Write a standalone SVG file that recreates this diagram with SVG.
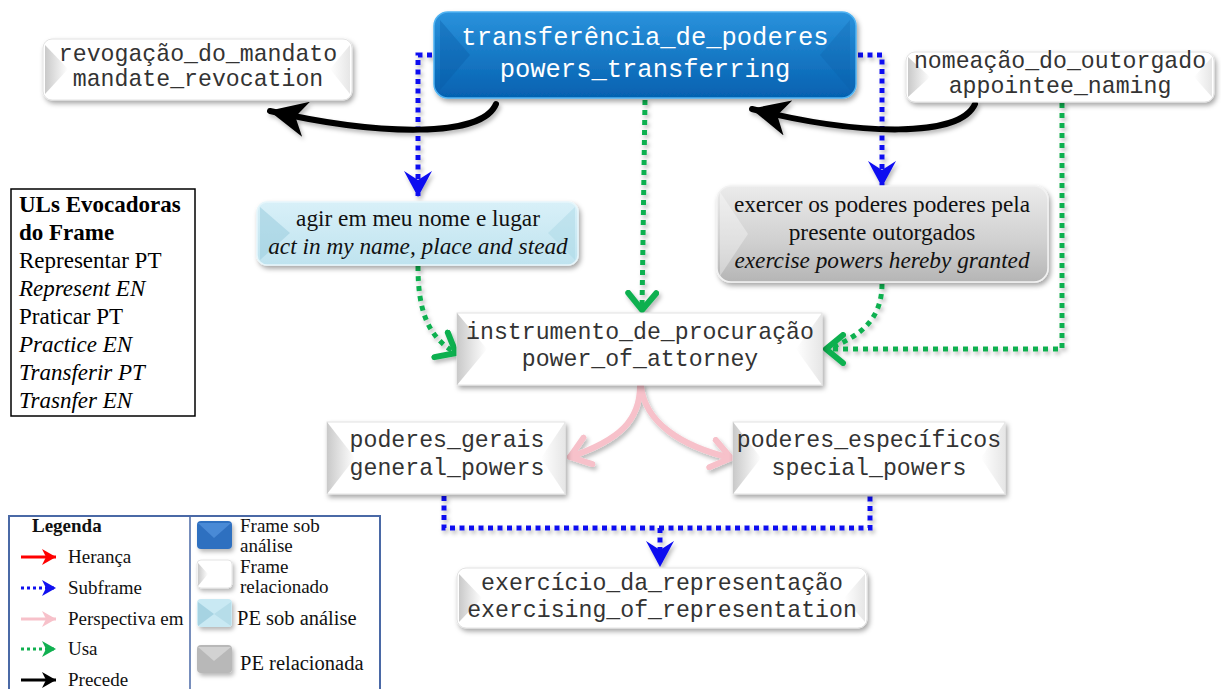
<svg xmlns="http://www.w3.org/2000/svg" width="1221" height="689" viewBox="0 0 1221 689">
  <style>
    .mono { font-family: "Liberation Mono", "Courier New", monospace; font-size: 23.2px; fill: #333; text-anchor: middle; }
    .monoW { font-family: "Liberation Mono", "Courier New", monospace; font-size: 25.5px; fill: #ffffff; text-anchor: middle; }
    .serif { font-family: "Liberation Serif", "Times New Roman", serif; font-size: 23.3px; fill: #111; text-anchor: middle; }
    .it { font-style: italic; }
    .uls { font-family: "Liberation Serif", "Times New Roman", serif; font-size: 23px; fill: #000; }
    .leg { font-family: "Liberation Serif", "Times New Roman", serif; fill: #111; }
    .frameBox { fill: #ffffff; stroke: #e2e2e2; stroke-width: 1; }
    .shadow { filter: url(#drop); }
    .blueDot { fill: none; stroke: #1010f0; stroke-width: 5; stroke-dasharray: 5 4.5; }
    .greenDot { fill: none; stroke: #10b050; stroke-width: 5; stroke-dasharray: 5 5; }
    .black { fill: none; stroke: #000; stroke-width: 6; stroke-linecap: round; }
    .pink { fill: none; stroke: #f7c1ca; stroke-width: 6; stroke-linecap: round; }
  </style>
  <defs>
    <filter id="drop" x="-10%" y="-20%" width="125%" height="150%">
      <feDropShadow dx="2" dy="3" stdDeviation="2.5" flood-color="#000" flood-opacity="0.35"/>
    </filter>
    <filter id="dropS" x="-20%" y="-20%" width="140%" height="140%">
      <feDropShadow dx="2" dy="3" stdDeviation="2" flood-color="#000" flood-opacity="0.28"/>
    </filter>
    <linearGradient id="bevL" x1="0" y1="0" x2="1" y2="0">
      <stop offset="0" stop-color="#c9c9c9"/>
      <stop offset="1" stop-color="#ffffff"/>
    </linearGradient>
    <linearGradient id="bevR" x1="1" y1="0" x2="0" y2="0">
      <stop offset="0" stop-color="#e6e6e6"/>
      <stop offset="1" stop-color="#ffffff"/>
    </linearGradient>
    <linearGradient id="blueFill" x1="0" y1="0" x2="0" y2="1">
      <stop offset="0" stop-color="#2a92dc"/>
      <stop offset="1" stop-color="#0561b0"/>
    </linearGradient>
    <linearGradient id="cyanFill" x1="0" y1="0" x2="0" y2="1">
      <stop offset="0" stop-color="#d8f0f8"/>
      <stop offset="1" stop-color="#bfe3ef"/>
    </linearGradient>
    <linearGradient id="grayFill" x1="0" y1="0" x2="0" y2="1">
      <stop offset="0" stop-color="#ebebeb"/>
      <stop offset="0.6" stop-color="#cfcfcf"/>
      <stop offset="1" stop-color="#b5b5b5"/>
    </linearGradient>
    <marker id="aBlue" viewBox="0 0 26 28" markerWidth="26" markerHeight="28" refX="25" refY="14" orient="auto" markerUnits="userSpaceOnUse">
      <path d="M0,0 L26,14 L0,28 L9,14 z" fill="#1010f0"/>
    </marker>
    <marker id="aGreen" viewBox="0 0 24 34" markerWidth="24" markerHeight="34" refX="20" refY="17" orient="auto" markerUnits="userSpaceOnUse">
      <path d="M3,3 L20,17 L3,31" fill="none" stroke="#10b050" stroke-width="6" stroke-linecap="round" stroke-linejoin="round"/>
    </marker>
    <marker id="aBlack" viewBox="0 0 38 36" markerWidth="38" markerHeight="36" refX="37" refY="18" orient="auto" markerUnits="userSpaceOnUse">
      <path d="M0,0 L38,18 L0,36 L11,18 z" fill="#000"/>
    </marker>
    <marker id="aPink" viewBox="0 0 26 34" markerWidth="26" markerHeight="34" refX="22" refY="17" orient="auto" markerUnits="userSpaceOnUse">
      <path d="M3,3 L22,17 L3,31" fill="none" stroke="#f7c1ca" stroke-width="6" stroke-linecap="round" stroke-linejoin="round"/>
    </marker>
    <!-- small legend arrowheads -->
    <marker id="lRed" viewBox="0 0 14 16" markerWidth="14" markerHeight="16" refX="14" refY="8" orient="auto" markerUnits="userSpaceOnUse">
      <path d="M0,0 L14,8 L0,16 L4,8 z" fill="#ff0000"/>
    </marker>
    <marker id="lBlue" viewBox="0 0 14 16" markerWidth="14" markerHeight="16" refX="14" refY="8" orient="auto" markerUnits="userSpaceOnUse">
      <path d="M0,0 L14,8 L0,16 L4,8 z" fill="#1010f0"/>
    </marker>
    <marker id="lPink" viewBox="0 0 14 16" markerWidth="14" markerHeight="16" refX="14" refY="8" orient="auto" markerUnits="userSpaceOnUse">
      <path d="M0,0 L14,8 L0,16 L4,8 z" fill="#f7c1ca"/>
    </marker>
    <marker id="lGreen" viewBox="0 0 14 16" markerWidth="14" markerHeight="16" refX="14" refY="8" orient="auto" markerUnits="userSpaceOnUse">
      <path d="M0,0 L14,8 L0,16 L4,8 z" fill="#10b050"/>
    </marker>
    <marker id="lBlack" viewBox="0 0 14 16" markerWidth="14" markerHeight="16" refX="14" refY="8" orient="auto" markerUnits="userSpaceOnUse">
      <path d="M0,0 L14,8 L0,16 L4,8 z" fill="#000"/>
    </marker>
  </defs>

  <rect x="0" y="0" width="1221" height="689" fill="#ffffff"/>

  <!-- connectors -->
  <g id="connectors" filter="url(#dropS)">
    <!-- subframe links -->
    <path class="blueDot" d="M432,55 L418,55 L418,196" marker-end="url(#aBlue)"/>
    <path class="blueDot" d="M858,55 L882,55 L882,186" marker-end="url(#aBlue)"/>
    <path class="blueDot" d="M444,496 L444,528 L870,528 L870,496"/>
    <path class="blueDot" d="M660,528 L660,566" marker-end="url(#aBlue)"/>

    <!-- uses links -->
    <path class="greenDot" d="M645,100 L642,310" marker-end="url(#aGreen)"/>
    <path class="greenDot" d="M418,266 C418,305 425,336 456,353" marker-end="url(#aGreen)"/>
    <path class="greenDot" d="M882,284 C882,315 865,336 826,349"/>
    <path class="greenDot" d="M1062,103 L1062,349 L826,349" marker-end="url(#aGreen)"/>

    <!-- precedes links -->
    <path class="black" d="M496,104 C482,138 380,136 270,111" marker-end="url(#aBlack)"/>
    <path class="black" d="M975,104 C960,138 860,136 752,109" marker-end="url(#aBlack)"/>

    <!-- perspective links -->
    <path class="pink" d="M640,386 C640,420 620,440 570,457" marker-end="url(#aPink)"/>
    <path class="pink" d="M641,386 C645,422 680,446 731,458" marker-end="url(#aPink)"/>
  </g>

  <!-- frame under analysis -->
  <g id="transferencia_de_poderes">
    <rect class="shadow" x="434" y="12" width="422" height="86" rx="14" fill="url(#blueFill)" stroke="#4fb3f2" stroke-width="1.5"/>
    <path d="M440,20 L470,55 L440,90 Z" fill="#0a5aa3" opacity="0.35"/>
    <path d="M850,20 L820,55 L850,90 Z" fill="#0a5aa3" opacity="0.25"/>
    <text class="monoW" x="645" y="45">transferência_de_poderes</text>
    <text class="monoW" x="645" y="77">powers_transferring</text>
  </g>

  <g id="revogacao_do_mandato">
    <rect class="frameBox shadow" x="43" y="39" width="309" height="61" rx="9"/>
    <path d="M45,45 L68,69 L45,94 Z" fill="url(#bevL)"/>
    <path d="M350,45 L330,69 L350,94 Z" fill="url(#bevR)"/>
    <text class="mono" x="198" y="61">revogação_do_mandato</text>
    <text class="mono" x="198" y="86">mandate_revocation</text>
  </g>

  <g id="nomeacao_do_outorgado">
    <rect class="frameBox shadow" x="906" y="52" width="308" height="50" rx="9"/>
    <path d="M908,57 L930,77 L908,97 Z" fill="url(#bevL)"/>
    <path d="M1212,57 L1194,77 L1212,97 Z" fill="url(#bevR)"/>
    <text class="mono" x="1060" y="68">nomeação_do_outorgado</text>
    <text class="mono" x="1060" y="93">appointee_naming</text>
  </g>

  <!-- frame elements -->
  <g id="agir_em_meu_nome">
    <rect class="shadow" x="257" y="202" width="321" height="63" rx="10" fill="url(#cyanFill)" stroke="#e6f6fb" stroke-width="1.5"/>
    <path d="M260,207 L290,233 L260,260 Z" fill="#9fcfdf" opacity="0.6"/>
    <path d="M575,207 L548,233 L575,260 Z" fill="#a8d6e4" opacity="0.45"/>
    <text class="serif" x="418" y="226">agir em meu nome e lugar</text>
    <text class="serif it" x="418" y="254">act in my name, place and stead</text>
  </g>

  <g id="exercer_os_poderes">
    <rect class="shadow" x="717" y="186" width="331" height="96" rx="14" fill="url(#grayFill)" stroke="#f2f2f2" stroke-width="1.5"/>
    <path d="M720,192 L748,234 L720,276 Z" fill="#ffffff" opacity="0.35"/>
    <text class="serif" x="882" y="212">exercer os poderes poderes pela</text>
    <text class="serif" x="882" y="240">presente outorgados</text>
    <text class="serif it" x="882" y="268">exercise powers hereby granted</text>
  </g>

  <g id="instrumento_de_procuracao">
    <rect class="frameBox shadow" x="457" y="313" width="365" height="72"/>
    <path d="M457,313 L487,349 L457,385 Z" fill="url(#bevL)"/>
    <path d="M822,313 L796,349 L822,385 Z" fill="url(#bevR)"/>
    <text class="mono" x="640" y="339">instrumento_de_procuração</text>
    <text class="mono" x="640" y="366">power_of_attorney</text>
  </g>

  <g id="poderes_gerais">
    <rect class="frameBox shadow" x="327" y="422" width="238" height="72"/>
    <path d="M327,422 L355,458 L327,494 Z" fill="url(#bevL)"/>
    <path d="M565,422 L541,458 L565,494 Z" fill="url(#bevR)"/>
    <text class="mono" x="447" y="447">poderes_gerais</text>
    <text class="mono" x="447" y="475">general_powers</text>
  </g>

  <g id="poderes_especificos">
    <rect class="frameBox shadow" x="733" y="422" width="272" height="72"/>
    <path d="M733,422 L761,458 L733,494 Z" fill="url(#bevL)"/>
    <path d="M1005,422 L981,458 L1005,494 Z" fill="url(#bevR)"/>
    <text class="mono" x="869" y="447">poderes_específicos</text>
    <text class="mono" x="869" y="475">special_powers</text>
  </g>

  <g id="exercicio_da_representacao">
    <rect class="frameBox shadow" x="457" y="568" width="410" height="60" rx="9"/>
    <path d="M459,574 L482,598 L459,622 Z" fill="url(#bevL)"/>
    <path d="M865,574 L844,598 L865,622 Z" fill="url(#bevR)"/>
    <text class="mono" x="662" y="590">exercício_da_representação</text>
    <text class="mono" x="662" y="617">exercising_of_representation</text>
  </g>

  <!-- evoking lexical units -->
  <g id="uls_evocadoras">
    <rect x="11" y="189" width="184" height="227" fill="#ffffff" stroke="#000" stroke-width="1.5"/>
    <text class="uls" x="19" y="212" font-weight="bold">ULs Evocadoras</text>
    <text class="uls" x="19" y="240" font-weight="bold">do Frame</text>
    <text class="uls" x="19" y="268">Representar PT</text>
    <text class="uls it" x="19" y="296">Represent EN</text>
    <text class="uls" x="19" y="324">Praticar PT</text>
    <text class="uls it" x="19" y="352">Practice EN</text>
    <text class="uls it" x="19" y="380">Transferir PT</text>
    <text class="uls it" x="19" y="408">Trasnfer EN</text>
  </g>

  <!-- legend -->
  <g id="legenda">
    <rect x="9" y="516" width="371" height="180" fill="#ffffff" stroke="#4a69a6" stroke-width="2"/>
    <line x1="190" y1="516" x2="190" y2="689" stroke="#4a69a6" stroke-width="1.5"/>
    <text class="leg" x="32" y="532" font-weight="bold" font-size="19">Legenda</text>

    <line x1="21" y1="557" x2="56" y2="557" stroke="#ff0000" stroke-width="3" marker-end="url(#lRed)"/>
    <text class="leg" x="68" y="563" font-size="19">Herança</text>
    <line x1="21" y1="588" x2="56" y2="588" stroke="#1010f0" stroke-width="3" stroke-dasharray="3 3" marker-end="url(#lBlue)"/>
    <text class="leg" x="68" y="594" font-size="19">Subframe</text>
    <line x1="21" y1="619" x2="56" y2="619" stroke="#f7c1ca" stroke-width="3" marker-end="url(#lPink)"/>
    <text class="leg" x="68" y="625" font-size="19">Perspectiva em</text>
    <line x1="21" y1="649" x2="56" y2="649" stroke="#10b050" stroke-width="3" stroke-dasharray="3 3" marker-end="url(#lGreen)"/>
    <text class="leg" x="68" y="655" font-size="19">Usa</text>
    <line x1="21" y1="680" x2="56" y2="680" stroke="#000" stroke-width="3" marker-end="url(#lBlack)"/>
    <text class="leg" x="68" y="686" font-size="19">Precede</text>

    <!-- node style swatches -->
    <g filter="url(#dropS)">
      <rect x="197" y="521" width="35" height="28" rx="4" fill="#2f6fc0"/>
      <path d="M198,523 L214,538 L231,523 Z" fill="#4a8ad6"/>
      <rect x="197" y="560" width="35" height="28" rx="4" fill="#ffffff" stroke="#e4e4e4"/>
      <path d="M198,563 L208,574 L198,586 Z" fill="url(#bevL)"/>
      <rect x="197" y="599" width="35" height="28" rx="4" fill="#c9e9f3"/>
      <path d="M198,602 L214,614 L198,626 Z" fill="#a6d3e2"/>
      <path d="M231,602 L214,614 L231,626 Z" fill="#b6dde9"/>
      <rect x="197" y="645" width="35" height="28" rx="4" fill="#b8b8b8"/>
      <path d="M198,647 L214,661 L231,647 Z" fill="#d2d2d2"/>
    </g>
    <text class="leg" x="240" y="532" font-size="19">Frame sob</text>
    <text class="leg" x="240" y="552" font-size="19">análise</text>
    <text class="leg" x="240" y="573" font-size="19">Frame</text>
    <text class="leg" x="240" y="593" font-size="19">relacionado</text>
    <text class="leg" x="237" y="625" font-size="20.5">PE sob análise</text>
    <text class="leg" x="240" y="670" font-size="20.5">PE relacionada</text>
  </g>
</svg>
